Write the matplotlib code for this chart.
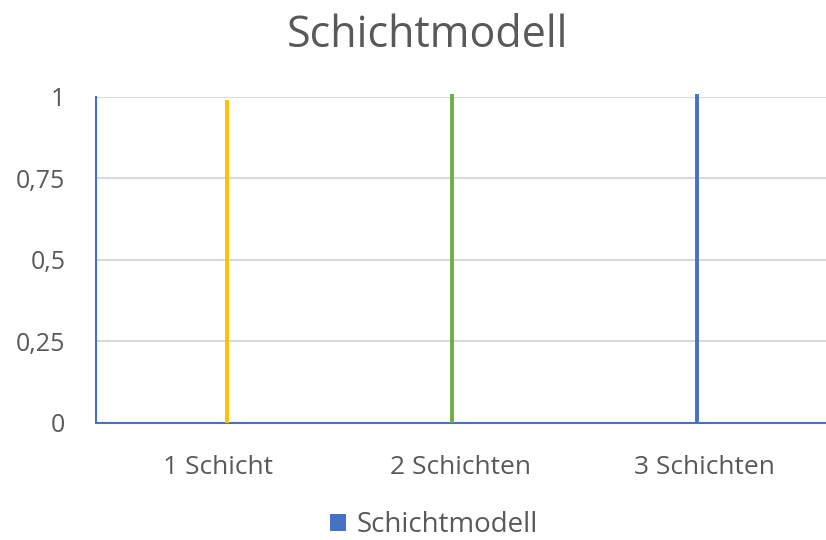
import matplotlib.pyplot as plt
from matplotlib.patches import Patch

categories = ["1 Schicht", "2 Schichten", "3 Schichten"]
values = [0.99, 1.01, 1.01]
colors = ["#FFC000", "#70AD47", "#4472C4"]
yticks = [0, 0.25, 0.5, 0.75, 1]
ytick_labels = ["0", "0,25", "0,5", "0,75", "1"]

# lines in the original sit a bit off the category centres
nudge = [0.04, -0.035, -0.03]

plt.rcParams["font.family"] = ["Open Sans", "DejaVu Sans"]

fig = plt.figure(figsize=(8.26, 5.4), dpi=100)
ax = fig.add_axes([0.116, 0.2167, 0.884, 0.6037])

for i, (v, c) in enumerate(zip(values, colors)):
    ax.vlines(i + nudge[i], 0, v, color=c, linewidth=2.8, clip_on=False, zorder=3)

ax.set_xlim(-0.5, 2.5)
ax.set_ylim(0, 1)
ax.set_xticks(range(len(categories)))
ax.set_xticklabels(categories)
ax.set_yticks(yticks)
ax.set_yticklabels(ytick_labels)
ax.tick_params(axis="both", length=0, labelcolor="#595959")
ax.tick_params(axis="x", pad=23, labelsize=19)
ax.tick_params(axis="y", pad=22, labelsize=18)

ax.grid(axis="y", color="#D9D9D9", linewidth=1.5)
ax.set_axisbelow(True)
for s in ["top", "right"]:
    ax.spines[s].set_visible(False)
for s in ["left", "bottom"]:
    ax.spines[s].set_color("#4472C4")
    ax.spines[s].set_linewidth(1.5)

fig.text(0.517, 0.913, "Schichtmodell", ha="center", va="baseline",
         fontsize=31, color="#595959")

handle = Patch(facecolor="#4472C4", edgecolor="none")
fig.legend([handle], ["Schichtmodell"], loc="center", bbox_to_anchor=(0.525, 0.027),
           frameon=False, fontsize=20, labelcolor="#595959",
           handlelength=0.6, handleheight=0.6, handletextpad=0.35)

fig.savefig("out.png", dpi=100)
